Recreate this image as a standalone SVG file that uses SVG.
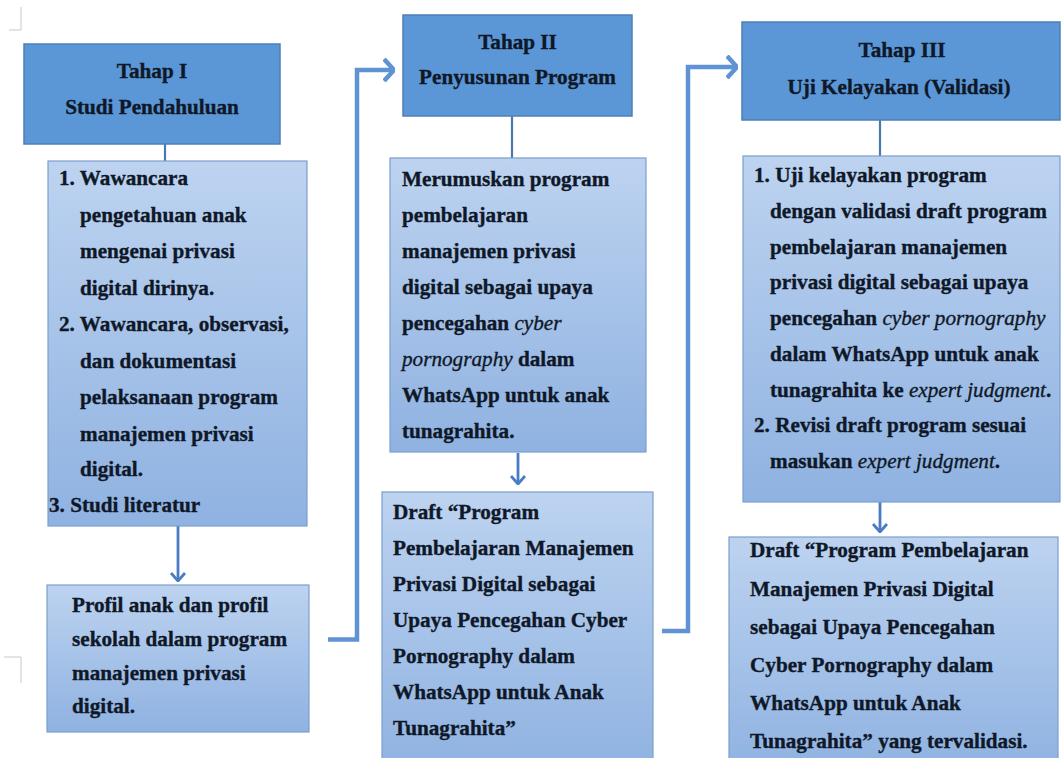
<svg xmlns="http://www.w3.org/2000/svg" width="1062" height="758" viewBox="0 0 1062 758">
  <defs>
    <linearGradient id="boxGrad" x1="0" y1="0" x2="0" y2="1">
      <stop offset="0" stop-color="#bdd3f0"/>
      <stop offset="1" stop-color="#8fb2e1"/>
    </linearGradient>
    <marker id="chevThick" viewBox="0 0 12 24" refX="11" refY="12" markerWidth="12" markerHeight="24" markerUnits="userSpaceOnUse" orient="auto">
      <path d="M1,1 L11,12 L1,23" fill="none" stroke="#5f93d3" stroke-width="4.5"/>
    </marker>
    <marker id="chevThin" viewBox="0 0 16 10" refX="8" refY="9" markerWidth="16" markerHeight="10" markerUnits="userSpaceOnUse" orient="0">
      <path d="M1,1 L8,9 L15,1" fill="none" stroke="#4a7cc4" stroke-width="2.8"/>
    </marker>
  </defs>
  <style>
    .hdr { fill: #5b97d6; stroke: #4d7fb5; stroke-width: 1.5; }
    .box { fill: url(#boxGrad); stroke: #7a9fcf; stroke-width: 1.2; }
    text { font-family: "Liberation Serif", "Times New Roman", serif; font-weight: bold; font-size: 21.2px; fill: #0f1828; stroke: #0f1828; stroke-width: 0.35; }
    .c { text-anchor: middle; }
    .i { font-style: italic; font-weight: normal; }
    .link { fill: none; stroke: #4a78b4; stroke-width: 2.2; }
    .flow { fill: none; stroke: #5f93d3; stroke-width: 4.5; }
    .down { fill: none; stroke: #4a7cc4; stroke-width: 2.8; }
    .mark { fill: none; stroke: #c9c9c9; stroke-width: 1; }
  </style>

  <g id="page-marks">
    <path class="mark" d="M21,7 V30 H9"/>
    <path class="mark" d="M4,657 H21 V683"/>
  </g>

  <g id="connectors">
    <line class="link" x1="165" y1="144" x2="165" y2="161"/>
    <line class="link" x1="512" y1="116" x2="512" y2="158"/>
    <line class="link" x1="880" y1="120" x2="880" y2="156"/>
    <line class="down" x1="178" y1="526" x2="178" y2="581" marker-end="url(#chevThin)"/>
    <line class="down" x1="518" y1="453" x2="518" y2="484" marker-end="url(#chevThin)"/>
    <line class="down" x1="880" y1="502" x2="880" y2="532" marker-end="url(#chevThin)"/>
    <path class="flow" d="M328,639.5 H357 V70 H394" marker-end="url(#chevThick)"/>
    <path class="flow" d="M662,631 H688 V67 H737" marker-end="url(#chevThick)"/>
  </g>

  <g id="tahap1">
    <rect class="hdr" x="24" y="44" width="256" height="100"/>
    <text class="c" x="152" y="78">Tahap I</text>
    <text class="c" x="152" y="114">Studi Pendahuluan</text>
  </g>

  <g id="studi-list">
    <rect class="box" x="48" y="161" width="259" height="365"/>
    <text x="59" y="185">1. Wawancara</text>
    <text x="80" y="221.5">pengetahuan anak</text>
    <text x="80" y="258">mengenai privasi</text>
    <text x="80" y="294.5">digital dirinya.</text>
    <text x="59" y="331">2. Wawancara, observasi,</text>
    <text x="80" y="367.5">dan dokumentasi</text>
    <text x="80" y="404">pelaksanaan program</text>
    <text x="80" y="440.5">manajemen privasi</text>
    <text x="80" y="476">digital.</text>
    <text x="49" y="512">3. Studi literatur</text>
  </g>

  <g id="profil">
    <rect class="box" x="47" y="585" width="262" height="147"/>
    <text x="72" y="611.5">Profil anak dan profil</text>
    <text x="72" y="645.5">sekolah dalam program</text>
    <text x="72" y="679.5">manajemen privasi</text>
    <text x="72" y="713">digital.</text>
  </g>

  <g id="tahap2">
    <rect class="hdr" x="403" y="15" width="229" height="101"/>
    <text class="c" x="517.5" y="49">Tahap II</text>
    <text class="c" x="517.5" y="84">Penyusunan Program</text>
  </g>

  <g id="merumuskan">
    <rect class="box" x="390" y="158" width="256" height="294"/>
    <text x="402" y="185.5">Merumuskan program</text>
    <text x="402" y="221.5">pembelajaran</text>
    <text x="402" y="257.5">manajemen privasi</text>
    <text x="402" y="293.5">digital sebagai upaya</text>
    <text x="402" y="329.5">pencegahan <tspan class="i">cyber</tspan></text>
    <text x="402" y="365.5"><tspan class="i">pornography</tspan> dalam</text>
    <text x="402" y="401.5">WhatsApp untuk anak</text>
    <text x="402" y="438">tunagrahita.</text>
  </g>

  <g id="draft2">
    <rect class="box" x="382" y="492" width="271" height="280"/>
    <text x="393" y="519">Draft “Program</text>
    <text x="393" y="555">Pembelajaran Manajemen</text>
    <text x="393" y="591">Privasi Digital sebagai</text>
    <text x="393" y="627">Upaya Pencegahan Cyber</text>
    <text x="393" y="663">Pornography dalam</text>
    <text x="393" y="699">WhatsApp untuk Anak</text>
    <text x="393" y="735">Tunagrahita”</text>
  </g>

  <g id="tahap3">
    <rect class="hdr" x="742" y="22" width="318" height="98"/>
    <text class="c" x="902" y="57">Tahap III</text>
    <text class="c" x="899" y="94">Uji Kelayakan (Validasi)</text>
  </g>

  <g id="uji-list">
    <rect class="box" x="743" y="156" width="317" height="346"/>
    <text x="754" y="182">1. Uji kelayakan program</text>
    <text x="770" y="218">dengan validasi draft program</text>
    <text x="770" y="253.5">pembelajaran  manajemen</text>
    <text x="770" y="289">privasi digital sebagai upaya</text>
    <text x="770" y="325">pencegahan <tspan class="i">cyber pornography</tspan></text>
    <text x="770" y="361">dalam WhatsApp untuk anak</text>
    <text x="770" y="396.5">tunagrahita ke <tspan class="i">expert judgment</tspan>.</text>
    <text x="754" y="432">2. Revisi draft program sesuai</text>
    <text x="770" y="468">masukan <tspan class="i">expert judgment</tspan>.</text>
  </g>

  <g id="draft3">
    <rect class="box" x="729" y="537" width="329" height="235"/>
    <text x="750" y="557">Draft “Program Pembelajaran</text>
    <text x="750" y="595.5">Manajemen Privasi Digital</text>
    <text x="750" y="634">sebagai Upaya Pencegahan</text>
    <text x="750" y="672">Cyber Pornography dalam</text>
    <text x="750" y="710">WhatsApp untuk Anak</text>
    <text x="750" y="748">Tunagrahita” yang tervalidasi.</text>
  </g>
</svg>
